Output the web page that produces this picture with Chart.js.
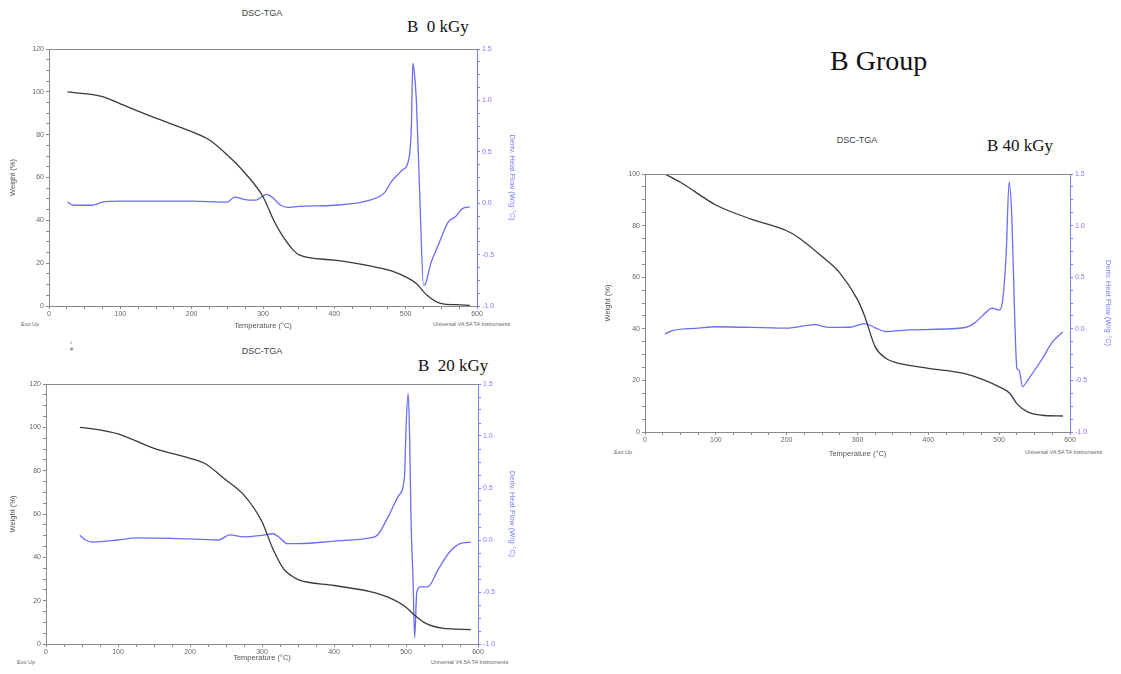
<!DOCTYPE html>
<html lang="en">
<head>
  <meta charset="UTF-8">
  <title>B Group DSC-TGA</title>
  <script src="https://cdn.jsdelivr.net/npm/chart.js@4.4.0/dist/chart.umd.min.js"></script>
  <style>
    body { margin: 0; width: 1121px; height: 674px; background: #fff; position: relative; overflow: hidden; font-family: "Liberation Sans", Arial, sans-serif; }
    .box { position: absolute; }
    .txt { position: absolute; white-space: nowrap; }
    .dsc { font-size: 9px; color: #444; transform: translateX(-50%); }
    .lbl { font-family: "Liberation Serif", "Times New Roman", serif; font-size: 17px; color: #111; }
    .small { font-size: 5.5px; color: #666; }
  </style>
</head>
<body>
  <div class="txt dsc" style="left:262px; top:8px;">DSC-TGA</div>
  <div class="txt lbl" style="left:407px; top:17px;">B&nbsp; 0 kGy</div>
  <div class="txt small" style="left:21px; top:321px;">Exo Up</div>
  <div class="txt small" style="left:433px; top:321px;">Universal V4.5A TA Instruments</div>
  <div class="box" style="left:5px; top:40px; width:520px; height:292px;"><canvas id="chartB0"></canvas></div>

  <div class="txt small" style="left:70px; top:340px;">¹<br>#</div>
  <div class="txt dsc" style="left:262px; top:346px;">DSC-TGA</div>
  <div class="txt lbl" style="left:418px; top:356px;">B&nbsp; 20 kGy</div>
  <div class="txt small" style="left:17px; top:659px;">Exo Up</div>
  <div class="txt small" style="left:431px; top:659px;">Universal V4.5A TA Instruments</div>
  <div class="box" style="left:5px; top:375px; width:525px; height:291px;"><canvas id="chartB20"></canvas></div>

  <div class="txt lbl" style="left:830px; top:45px; font-size:28px;">B Group</div>
  <div class="txt dsc" style="left:857px; top:135px;">DSC-TGA</div>
  <div class="txt lbl" style="left:987px; top:136px;">B 40 kGy</div>
  <div class="txt small" style="left:614px; top:449px;">Exo Up</div>
  <div class="txt small" style="left:1025px; top:449px;">Universal V4.5A TA Instruments</div>
  <div class="box" style="left:600px; top:165px; width:520px; height:295px;"><canvas id="chartB40"></canvas></div>

  <script>
    // --- B 0 kGy ---
    const b0Temp = [26, 75, 100, 150, 200, 225, 250, 275, 300, 315, 325, 340, 350, 400, 450, 480, 500, 515, 530, 550, 570, 590];
    const b0Weight = [100, 97.8, 94.4, 87.7, 81.4, 77.5, 70.5, 62, 51, 40, 34, 27, 24, 21.4, 18.7, 16.4, 13.6, 10.5, 5, 1.1, 0.6, 0.3];
    const b0HfTemp = [26, 35, 60, 75, 100, 150, 200, 250, 260, 275, 290, 305, 315, 325, 335, 350, 400, 450, 470, 480, 495, 505, 508, 510, 512, 515, 520, 525, 528, 535, 545, 560, 570, 580, 590];
    const b0HeatFlow = [0.01, -0.02, -0.02, 0.01, 0.02, 0.02, 0.02, 0.01, 0.06, 0.035, 0.03, 0.085, 0.045, -0.02, -0.04, -0.03, -0.02, 0.03, 0.1, 0.21, 0.32, 0.45, 0.75, 1.36, 1.28, 1.0, 0.03, -0.8, -0.78, -0.59, -0.42, -0.18, -0.13, -0.05, -0.035];

    // --- B 20 kGy ---
    const b20Temp = [47, 75, 100, 150, 200, 220, 250, 275, 300, 315, 330, 340, 350, 400, 450, 475, 500, 510, 525, 550, 590];
    const b20Weight = [100, 98.8, 97, 90.3, 85.7, 83.4, 75.7, 68.7, 56.4, 44, 34.7, 31.7, 29.7, 27, 24.2, 21.6, 17, 13.9, 10, 7.3, 6.6];
    const b20HfTemp = [47, 55, 65, 100, 125, 200, 240, 255, 275, 300, 315, 325, 335, 350, 400, 450, 460, 475, 490, 498, 500, 503, 505, 507, 510, 512, 515, 520, 530, 545, 560, 575, 590];
    const b20HeatFlow = [0.045, 0, -0.02, 0, 0.02, 0.01, 0, 0.05, 0.03, 0.045, 0.06, 0.02, -0.035, -0.035, -0.01, 0.02, 0.045, 0.22, 0.43, 0.62, 1.07, 1.41, 1.0, 0.2, -0.44, -0.94, -0.5, -0.45, -0.45, -0.28, -0.12, -0.035, -0.02];

    // --- B 40 kGy ---
    const b40Temp = [28, 50, 100, 150, 200, 215, 250, 275, 300, 310, 325, 340, 350, 400, 450, 480, 500, 515, 525, 540, 560, 590];
    const b40Weight = [100, 96.8, 88, 82.5, 78, 75.7, 68, 61.7, 51.3, 45, 33, 28.6, 27.3, 24.7, 22.7, 20, 17.5, 15, 11, 7.8, 6.5, 6.2];
    const b40HfTemp = [28, 40, 75, 100, 200, 240, 260, 290, 310, 325, 340, 375, 450, 465, 480, 490, 500, 505, 510, 514, 518, 522, 525, 528, 533, 540, 560, 575, 590];
    const b40HeatFlow = [-0.05, -0.015, 0.006, 0.02, 0.006, 0.04, 0.013, 0.015, 0.05, 0.01, -0.026, -0.01, 0.01, 0.055, 0.15, 0.2, 0.18, 0.28, 0.74, 1.42, 1.06, 0.09, -0.38, -0.4, -0.56, -0.5, -0.3, -0.13, -0.03];

    const greyAxis = '#8a8a8a';
    const blueAxis = '#7b7bff';
    const tickFont = { family: 'Liberation Sans', size: 7 };
    const titleFont = { family: 'Liberation Sans', size: 7.5 };

    function toPoints(xs, ys) {
      return xs.map((x, i) => ({ x: x, y: ys[i] }));
    }

    // linea gris arriba del area del grafico
    const topBorder = {
      id: 'topBorder',
      afterDraw(chart) {
        const a = chart.chartArea;
        const ctx = chart.ctx;
        ctx.save();
        ctx.strokeStyle = greyAxis;
        ctx.lineWidth = 1;
        ctx.beginPath();
        ctx.moveTo(a.left, a.top + 0.5);
        ctx.lineTo(a.right, a.top + 0.5);
        ctx.stroke();
        ctx.restore();
      }
    };

    function makeChart(id, cfg) {
      new Chart(document.getElementById(id), {
        type: 'line',
        data: {
          datasets: [{
            data: toPoints(cfg.temp, cfg.weight),
            yAxisID: 'y',
            borderColor: '#3a3a3a',
            borderWidth: 1.3,
            pointRadius: 0,
            cubicInterpolationMode: 'monotone'
          }, {
            data: toPoints(cfg.hfTemp, cfg.heatFlow),
            yAxisID: 'y2',
            borderColor: '#6c6cf7',
            borderWidth: 1.3,
            pointRadius: 0,
            cubicInterpolationMode: 'monotone'
          }]
        },
        options: {
          responsive: true,
          maintainAspectRatio: false,
          animation: false,
          layout: { padding: { top: 9, left: 0, right: 0, bottom: 0 } },
          plugins: { legend: { display: false }, tooltip: { enabled: false } },
          scales: {
            x: {
              type: 'linear', min: 0, max: 600,
              afterFit: s => { s.height = cfg.bottomW; },
              border: { color: greyAxis, width: 1 },
              grid: { drawOnChartArea: false, color: greyAxis, tickLength: 3 },
              ticks: {
                stepSize: 25, autoSkip: false, maxRotation: 0, padding: 1,
                color: '#666', font: tickFont,
                callback: v => (v % 100 === 0 ? String(v) : '')
              },
              title: { display: true, text: 'Temperature (°C)', color: '#555', font: titleFont, padding: { top: 0, bottom: cfg.xTitlePad } }
            },
            y: {
              position: 'left', min: 0, max: cfg.weightMax,
              afterFit: s => { s.width = cfg.leftW; },
              border: { color: greyAxis, width: 1 },
              grid: { drawOnChartArea: false, color: greyAxis, tickLength: 3 },
              ticks: {
                stepSize: 5, autoSkip: false, padding: 2,
                color: '#666', font: tickFont,
                callback: v => (v % 20 === 0 ? String(v) : '')
              },
              title: { display: true, text: 'Weight (%)', color: '#555', font: titleFont, padding: { top: 3, bottom: 0 } }
            },
            y2: {
              position: 'right', min: -1, max: 1.5,
              afterFit: s => { s.width = cfg.rightW; },
              border: { color: blueAxis, width: 1 },
              grid: { drawOnChartArea: false, color: blueAxis, tickLength: 3 },
              ticks: {
                stepSize: 0.125, autoSkip: false, padding: 2,
                color: blueAxis, font: tickFont,
                callback: v => (v % 0.5 === 0 ? v.toFixed(1) : '')
              },
              title: { display: true, text: 'Deriv. Heat Flow (W/g·°C)', color: blueAxis, font: titleFont, padding: { top: cfg.rTitlePad, bottom: 0 } }
            }
          }
        },
        plugins: [topBorder]
      });
    }

    makeChart('chartB0', {
      temp: b0Temp, weight: b0Weight, hfTemp: b0HfTemp, heatFlow: b0HeatFlow,
      weightMax: 120, leftW: 44, rightW: 48, bottomW: 26, xTitlePad: 2, rTitlePad: 8
    });
    makeChart('chartB20', {
      temp: b20Temp, weight: b20Weight, hfTemp: b20HfTemp, heatFlow: b20HeatFlow,
      weightMax: 120, leftW: 41, rightW: 52, bottomW: 22, xTitlePad: 4, rTitlePad: 13
    });
    makeChart('chartB40', {
      temp: b40Temp, weight: b40Weight, hfTemp: b40HfTemp, heatFlow: b40HeatFlow,
      weightMax: 100, leftW: 45, rightW: 50, bottomW: 28, xTitlePad: 2, rTitlePad: 7
    });
  </script>
</body>
</html>
